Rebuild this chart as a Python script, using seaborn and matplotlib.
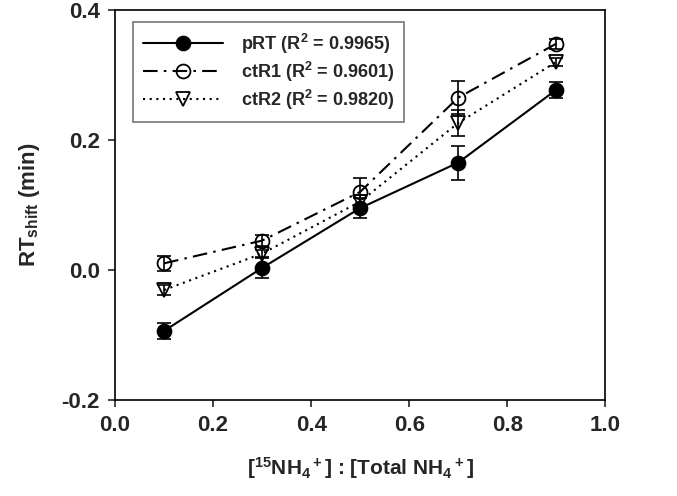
import numpy as np
import pandas as pd
import matplotlib
matplotlib.use("Agg")
import matplotlib.pyplot as plt
import seaborn as sns

x = [0.1, 0.3, 0.5, 0.7, 0.9]
prt = [-0.094, 0.003, 0.095, 0.165, 0.277]
prt_err = [0.012, 0.015, 0.015, 0.026, 0.012]
ctr1 = [0.010, 0.045, 0.120, 0.265, 0.348]
ctr1_err = [0.012, 0.008, 0.022, 0.025, 0.008]
ctr2 = [-0.031, 0.025, 0.105, 0.226, 0.320]
ctr2_err = [0.008, 0.006, 0.010, 0.020, 0.006]
labels = [r"pRT (R$^2$ = 0.9965)", r"ctR1 (R$^2$ = 0.9601)", r"ctR2 (R$^2$ = 0.9820)"]

sns.set_style("ticks")
plt.rcParams['font.family'] = ['Liberation Sans', 'DejaVu Sans']
plt.rcParams['font.weight'] = 'bold'
plt.rcParams['mathtext.fontset'] = 'custom'
plt.rcParams['mathtext.rm'] = 'Liberation Sans:bold'
plt.rcParams['mathtext.it'] = 'Liberation Sans:bold'
plt.rcParams['mathtext.bf'] = 'Liberation Sans:bold'

fig = plt.figure(figsize=(6.77, 4.96), dpi=100)
ax = fig.add_axes([0.170, 0.194, 0.724, 0.786])

series = [
    (prt, prt_err, labels[0], '-', 'o', 'black'),
    (ctr1, ctr1_err, labels[1], (0, (7, 3, 1.2, 3)), 'o', 'none'),
    (ctr2, ctr2_err, labels[2], (0, (1, 2.2)), 'v', 'none'),
]
for y, e, lab, ls, mk, fc in series:
    df = pd.DataFrame({'x': x, 'y': y})
    ax.errorbar(x, y, yerr=e, fmt='none', ecolor='black', elinewidth=1.2,
                capsize=5, capthick=1.2, zorder=2)
    sns.lineplot(data=df, x='x', y='y', ax=ax, color='black', linestyle=ls,
                 linewidth=1.5, marker=mk, markersize=10, markerfacecolor=fc,
                 markeredgecolor='black', markeredgewidth=1.3, label=lab,
                 zorder=3)

ax.set_xlim(0.0, 1.0)
ax.set_ylim(-0.2, 0.4)
ax.set_xticks([0.0, 0.2, 0.4, 0.6, 0.8, 1.0])
ax.set_yticks([-0.2, 0.0, 0.2, 0.4])
ax.set_xticklabels([f"{v:.1f}" for v in [0.0, 0.2, 0.4, 0.6, 0.8, 1.0]])
ax.set_yticklabels([f"{v:.1f}" for v in [-0.2, 0.0, 0.2, 0.4]])
ax.tick_params(axis='both', direction='out', length=5, width=1.2,
               labelsize=16, pad=6)
for s in ax.spines.values():
    s.set_visible(True)
    s.set_linewidth(1.2)
    s.set_color('black')

ax.set_xlabel(r"[$^{15}$NH$_4{}^+$] : [Total NH$_4{}^+$]", fontsize=15,
              fontweight='bold', labelpad=14)
ax.set_ylabel(r"RT$_{shift}$ (min)", fontsize=16, fontweight='bold',
              labelpad=14)

leg = ax.legend(loc='upper left', bbox_to_anchor=(0.037, 0.97), fontsize=13,
                frameon=True, fancybox=False, edgecolor='#555555',
                handlelength=4.4, handletextpad=1.0, borderpad=0.55,
                labelspacing=0.22, borderaxespad=0)
leg.get_frame().set_linewidth(1.2)
for t in leg.get_texts():
    t.set_fontweight('bold')

fig.savefig("out.png", dpi=100)
